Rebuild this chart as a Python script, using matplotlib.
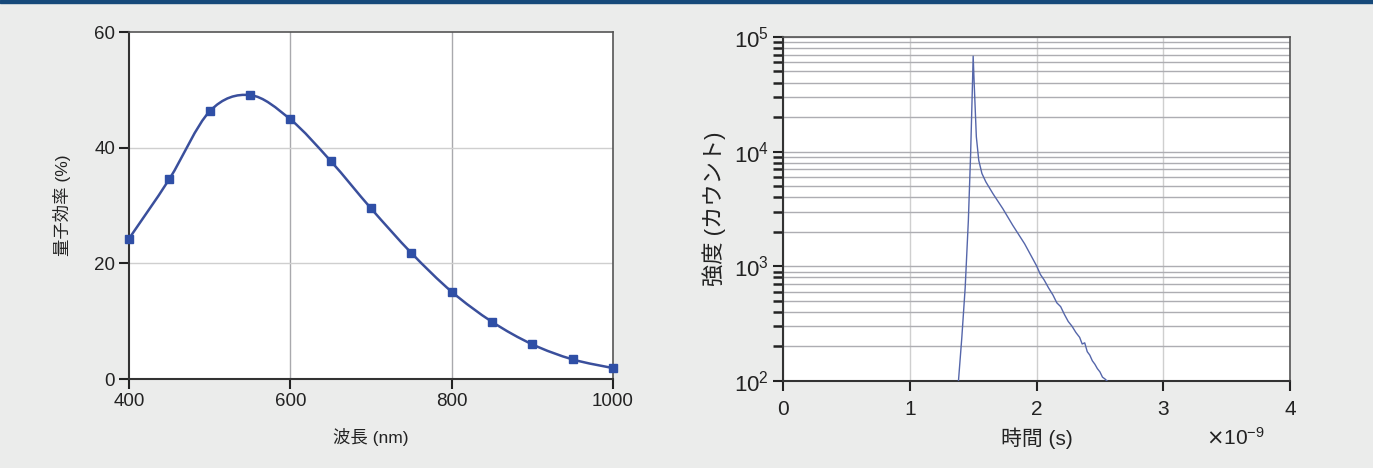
"""
Quantum efficiency vs wavelength, and time-resolved intensity decay.
"""

import matplotlib
matplotlib.use("Agg")
import matplotlib.pyplot as plt
import numpy as np
from matplotlib.patches import PathPatch, Rectangle
from matplotlib.path import Path
from matplotlib.ticker import LogLocator, FixedLocator, NullFormatter

plt.rcParams["font.family"] = ["Liberation Sans", "Noto Sans CJK JP", "DejaVu Sans"]

# Left panel: quantum efficiency (%)
wavelength_nm = [400, 450, 500, 550, 600, 650, 700, 750, 800, 850, 900, 950, 1000]
qe_pct = [24.3, 34.6, 46.3, 49.1, 44.9, 37.7, 29.5, 21.8, 15.1, 9.9, 6.0, 3.4, 1.9]

# Right panel: intensity decay (time in ns, counts)
time_ns = [1.384, 1.41, 1.437, 1.462, 1.48, 1.494, 1.500, 1.509, 1.525, 1.544,
           1.569, 1.60, 1.656, 1.734, 1.812, 1.906, 2.00, 2.03, 2.06, 2.094,
           2.13, 2.16, 2.19, 2.22, 2.25, 2.28, 2.31, 2.34, 2.36, 2.38, 2.40,
           2.42, 2.44, 2.46, 2.48, 2.50, 2.52, 2.54, 2.556]
counts = [100, 235, 650, 2500, 9600, 37000, 68000, 37000, 13500, 8400,
          6450, 5450, 4300, 3180, 2280, 1570, 1010, 850, 760, 650,
          560, 480, 445, 380, 330, 300, 265, 240, 210, 215, 180,
          168, 150, 140, 128, 120, 108, 104, 100]
time_ticks = [0, 1, 2, 3, 4]

BG = "#ebeceb"
QE_LINE = "#3a4f9c"
QE_MARK = "#2f4fa6"
DECAY_LINE = "#5566aa"
TXT = "#222222"


def smooth_path(xs, ys):
    """Catmull-Rom through the points, as cubic Bezier segments."""
    pts = np.column_stack([xs, ys]).astype(float)
    verts = [pts[0]]
    codes = [Path.MOVETO]
    n = len(pts)
    for i in range(n - 1):
        p0 = pts[i - 1] if i > 0 else pts[i]
        p1, p2 = pts[i], pts[i + 1]
        p3 = pts[i + 2] if i + 2 < n else pts[i + 1]
        c1 = p1 + (p2 - p0) / 6.0
        c2 = p2 - (p3 - p1) / 6.0
        verts += [c1, c2, p2]
        codes += [Path.CURVE4] * 3
    return Path(verts, codes)


def style_spines(ax):
    for side in ("left", "bottom"):
        ax.spines[side].set_linewidth(1.5)
        ax.spines[side].set_color("#333333")
    for side in ("top", "right"):
        ax.spines[side].set_linewidth(1.2)
        ax.spines[side].set_color("#555555")


fig = plt.figure(figsize=(13.73, 4.68), dpi=100, facecolor=BG)
fig.patches.append(Rectangle((0, 0.993), 1, 0.007, transform=fig.transFigure,
                             color="#16497a", zorder=5))

# ---- left: quantum efficiency
ax1 = fig.add_axes([0.094, 0.190, 0.3525, 0.7415])
ax1.set_xlim(400, 1000)
ax1.set_ylim(0, 60)
ax1.set_xticks([400, 600, 800, 1000])
ax1.set_yticks([0, 20, 40, 60])
for x in (600, 800):
    ax1.axvline(x, color="#a9a9ad", lw=1.0, zorder=0)
for y in (20, 40):
    ax1.axhline(y, color="#cfcfcf", lw=1.0, zorder=0)
ax1.add_patch(PathPatch(smooth_path(wavelength_nm, qe_pct), fill=False,
                        edgecolor=QE_LINE, lw=1.8, zorder=3))
ax1.plot(wavelength_nm, qe_pct, ls="none", marker="s", ms=6, color=QE_MARK,
         zorder=4, clip_on=False)
ax1.tick_params(axis="both", direction="out", length=7, width=1.5,
                labelsize=13.5, colors=TXT, pad=3)
style_spines(ax1)
ax1.set_xlabel("波長 (nm)", fontsize=12.5, color=TXT, labelpad=13)
ax1.set_ylabel("量子効率 (%)", fontsize=12.5, color=TXT, labelpad=17)

# ---- right: intensity decay
ax2 = fig.add_axes([0.5703, 0.186, 0.3693, 0.735])
ax2.set_yscale("log")
ax2.set_xlim(0, 4)
ax2.set_ylim(1e2, 1e5)
ax2.xaxis.set_major_locator(FixedLocator(time_ticks))
ax2.set_xticklabels([str(t) for t in time_ticks])
ax2.yaxis.set_major_locator(LogLocator(base=10, numticks=10))
ax2.yaxis.set_minor_locator(LogLocator(base=10, subs=np.arange(2, 10), numticks=20))
ax2.yaxis.set_minor_formatter(NullFormatter())
ax2.grid(axis="y", which="both", color="#adadb2", lw=1.0, zorder=0)
ax2.grid(axis="x", which="major", color="#cfcfcf", lw=1.0, zorder=0)
ax2.plot(time_ns, counts, color=DECAY_LINE, lw=1.0, zorder=3)
ax2.tick_params(axis="y", which="major", direction="out", length=7, width=1.5,
                labelsize=16, colors=TXT, pad=3)
ax2.tick_params(axis="y", which="minor", direction="out", length=7, width=1.8,
                colors=TXT)
ax2.tick_params(axis="x", direction="out", length=7, width=1.5,
                labelsize=15, colors=TXT, pad=7)
style_spines(ax2)
ax2.set_xlabel("時間 (s)", fontsize=15, color=TXT, labelpad=6)
ax2.set_ylabel("強度 (カウント)", fontsize=16, color=TXT, labelpad=6)
ax2.text(0.835, -0.165, r"$\times\mathregular{10^{-9}}$", transform=ax2.transAxes,
         fontsize=15, color=TXT, ha="left", va="center")

fig.savefig("out.png", dpi=100, facecolor=BG)
